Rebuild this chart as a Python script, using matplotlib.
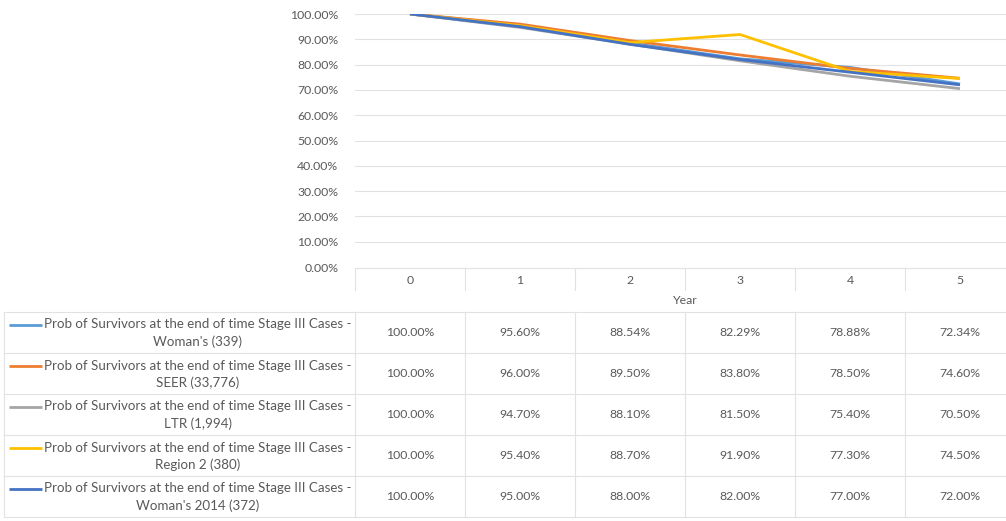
import matplotlib.pyplot as plt

plt.rcParams["font.family"] = ["Lato", "DejaVu Sans"]

W, H = 1006, 521

years = [0, 1, 2, 3, 4, 5]

series_names = [
    "Woman's (339)",
    "SEER (33,776)",
    "LTR (1,994)",
    "Region 2 (380)",
    "Woman's 2014 (372)",
]
womans = [100.00, 95.60, 88.54, 82.29, 78.88, 72.34]
seer = [100.00, 96.00, 89.50, 83.80, 78.50, 74.60]
ltr = [100.00, 94.70, 88.10, 81.50, 75.40, 70.50]
region2 = [100.00, 95.40, 88.70, 91.90, 77.30, 74.50]
womans_2014 = [100.00, 95.00, 88.00, 82.00, 77.00, 72.00]
series_values = [womans, seer, ltr, region2, womans_2014]

colors = ["#5B9BD5", "#ED7D31", "#A5A5A5", "#FFC000", "#4472C4"]
y_ticks = [0, 10, 20, 30, 40, 50, 60, 70, 80, 90, 100]

PREFIX = "Prob of Survivors at the end of time Stage III Cases -"
TEXT = "#595959"
GRID = "#E2E2E2"
FS = 8.8

# plot area in pixels
PX_LEFT, PX_RIGHT = 355, 1015
PX_TOP, PX_BOTTOM = 14, 267
COL_W = (PX_RIGHT - PX_LEFT) / len(years)

fig = plt.figure(figsize=(W / 100, H / 100), dpi=100)

# full-figure axes in pixel coordinates for the data table
tab = fig.add_axes([0, 0, 1, 1])
tab.set_xlim(0, W)
tab.set_ylim(H, 0)
tab.axis("off")

ax = fig.add_axes([
    PX_LEFT / W,
    (H - PX_BOTTOM) / H,
    (PX_RIGHT - PX_LEFT) / W,
    (PX_BOTTOM - PX_TOP) / H,
])
ax.patch.set_alpha(0)

for vals, col in zip(series_values, colors):
    ax.plot(years, vals, color=col, linewidth=2.0, solid_capstyle="butt")

ax.set_xlim(-0.5, len(years) - 0.5)
ax.set_ylim(0, 100)
ax.set_yticks(y_ticks)
ax.set_yticklabels([f"{t:.2f}%" for t in y_ticks], color=TEXT, fontsize=FS)
ax.tick_params(axis="y", length=0, pad=12)
ax.set_xticks([])
ax.grid(axis="y", color=GRID, linewidth=0.8)
ax.set_axisbelow(True)
for s in ax.spines.values():
    s.set_visible(False)

line_kw = dict(color=GRID, linewidth=0.8)

# category row and "Year" row
tab.plot([PX_LEFT, PX_RIGHT], [PX_BOTTOM + 1, PX_BOTTOM + 1], **line_kw)
for i, y in enumerate(years):
    cx = PX_LEFT + (i + 0.5) * COL_W
    tab.text(cx, 280, str(y), ha="center", va="center", color=TEXT, fontsize=FS)
for k in range(len(years) + 1):
    x = PX_LEFT + k * COL_W
    tab.plot([x, x], [PX_BOTTOM + 1, 290], **line_kw)
tab.text((PX_LEFT + PX_RIGHT) / 2, 300, "Year", ha="center", va="center",
         color=TEXT, fontsize=FS)

# data rows
ROW_TOP, ROW_H = 312, 41
TAB_LEFT = 4
n_rows = len(series_names)
tab.plot([TAB_LEFT, PX_RIGHT], [ROW_TOP, ROW_TOP], **line_kw)
for r in range(n_rows):
    yb = ROW_TOP + (r + 1) * ROW_H
    tab.plot([TAB_LEFT, PX_RIGHT], [yb, yb], **line_kw)
for x in [TAB_LEFT] + [PX_LEFT + k * COL_W for k in range(len(years) + 1)]:
    tab.plot([x, x], [ROW_TOP, ROW_TOP + n_rows * ROW_H], **line_kw)

for r, (name, vals, col) in enumerate(zip(series_names, series_values, colors)):
    yc = ROW_TOP + (r + 0.5) * ROW_H
    tab.plot([9, 42], [yc - 8, yc - 8], color=col, linewidth=2.0,
             solid_capstyle="butt")
    tab.text(44, yc - 8, PREFIX, ha="left", va="center", color=TEXT, fontsize=9.6)
    tab.text(198, yc + 9, name, ha="center", va="center", color=TEXT, fontsize=9.6)
    for i, v in enumerate(vals):
        cx = PX_LEFT + (i + 0.5) * COL_W
        tab.text(cx, yc, f"{v:.2f}%", ha="center", va="center",
                 color=TEXT, fontsize=FS)

fig.savefig("out.png", dpi=100)
